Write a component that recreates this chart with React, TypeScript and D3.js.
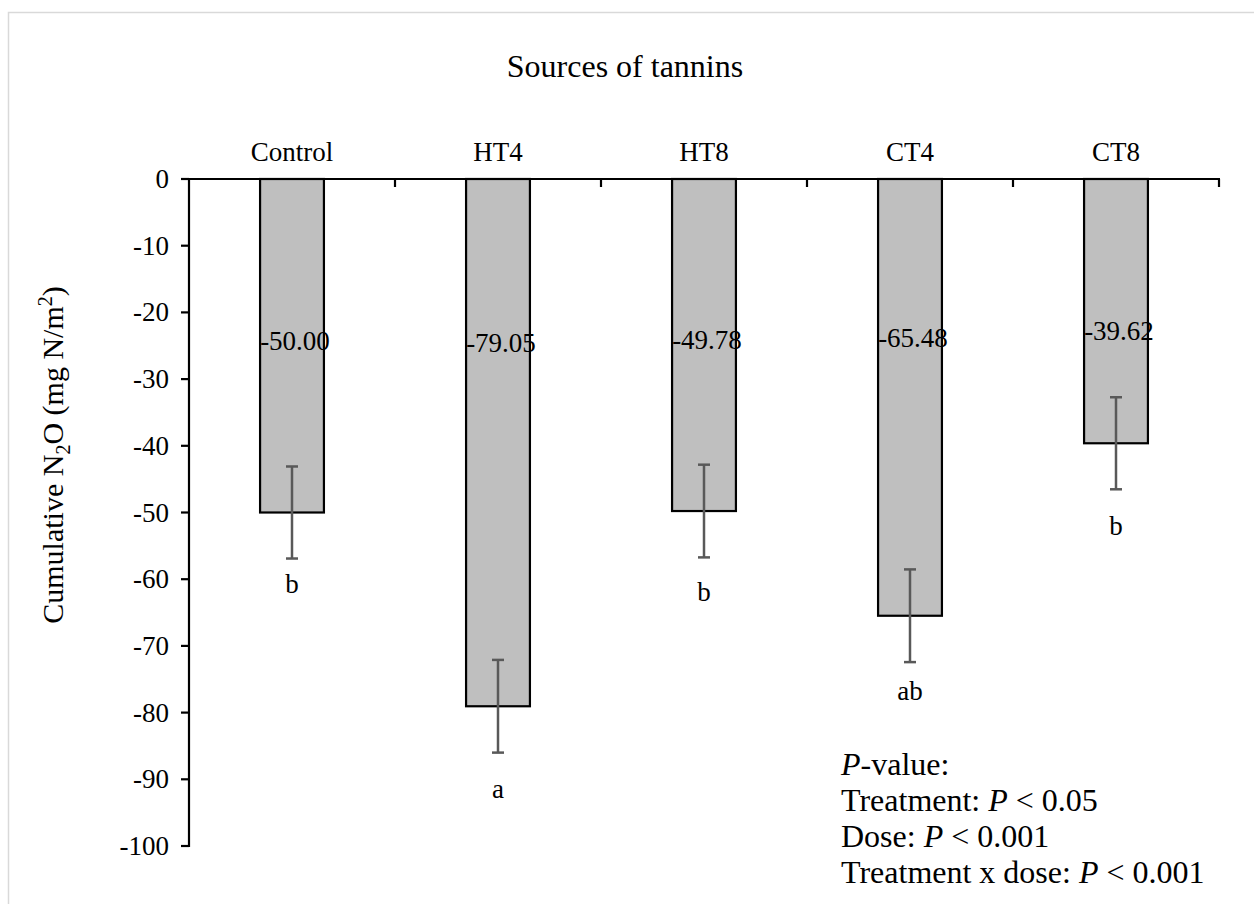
import React from 'react';
import * as d3 from 'd3';

const categories = ['Control', 'HT4', 'HT8', 'CT4', 'CT8'];
const means = [-50.0, -79.05, -49.78, -65.48, -39.62];
const errors = [6.9, 6.95, 6.95, 6.95, 6.9];
const letters = ['b', 'a', 'b', 'ab', 'b'];
// where the annotations sit, in axis units
const letterAt = [-62.1, -92.8, -63.3, -78.1, -53.4];
const labelAt = [-25.6, -25.9, -25.5, -25.2, -24.1];
const yTicks = [0, -10, -20, -30, -40, -50, -60, -70, -80, -90, -100];

const W = 1254;
const H = 904;
const left = 189;
const right = 1219;
const top = 179;
const bottom = 846;
const font = 'Liberation Serif, Times New Roman, serif';
const fs = 27;

export default function App() {
  const x = d3.scaleBand().domain(categories).range([left, right]).padding(0);
  const y = d3.scaleLinear().domain([0, -100]).range([top, bottom]);
  const bw = x.bandwidth() * 0.31;
  const cx = (c) => x(c) + x.bandwidth() / 2;
  const txt = { fontFamily: font };

  return (
    <svg width={W} height={H} style={{ position: 'absolute', left: 0, top: 0, background: '#fff', fontFamily: font }}>
      <rect x={8.5} y={12.5} width={W + 10} height={H + 10} fill="none" stroke="#d9d9d9" strokeWidth={1.5} />

      <text x={625} y={77} textAnchor="middle" fontSize={32} style={txt}>Sources of tannins</text>

      {/* bars */}
      {categories.map((c, i) => (
        <rect key={c} x={cx(c) - bw / 2} y={y(0)} width={bw} height={y(means[i]) - y(0)}
          fill="#bfbfbf" stroke="#000" strokeWidth={2.2} />
      ))}

      {/* error bars */}
      {categories.map((c, i) => {
        const y1 = y(means[i] + errors[i]);
        const y2 = y(means[i] - errors[i]);
        const xc = cx(c);
        return (
          <g key={'e' + c} stroke="#595959" strokeWidth={2.5}>
            <line x1={xc} x2={xc} y1={y1} y2={y2} />
            <line x1={xc - 6} x2={xc + 6} y1={y1} y2={y1} />
            <line x1={xc - 6} x2={xc + 6} y1={y2} y2={y2} />
          </g>
        );
      })}

      {/* value labels */}
      {categories.map((c, i) => (
        <text key={'v' + c} x={cx(c) + 3} y={y(labelAt[i])} textAnchor="middle" fontSize={fs} style={txt}>
          {means[i].toFixed(2)}
        </text>
      ))}

      {/* significance letters */}
      {categories.map((c, i) => (
        <text key={'l' + c} x={cx(c)} y={y(letterAt[i])} textAnchor="middle" fontSize={fs} style={txt}>
          {letters[i]}
        </text>
      ))}

      {/* category labels */}
      {categories.map((c) => (
        <text key={'c' + c} x={cx(c)} y={161} textAnchor="middle" fontSize={fs} style={txt}>{c}</text>
      ))}

      {/* x axis at zero */}
      <line x1={left} x2={right + 1} y1={y(0)} y2={y(0)} stroke="#000" strokeWidth={2.2} />
      {categories.slice(1).map((c) => (
        <line key={'t' + c} x1={x(c)} x2={x(c)} y1={y(0)} y2={y(0) + 8} stroke="#000" strokeWidth={2.2} />
      ))}
      <line x1={right} x2={right} y1={y(0)} y2={y(0) + 8} stroke="#000" strokeWidth={2.2} />

      {/* y axis */}
      <line x1={left} x2={left} y1={y(0) - 1} y2={y(-100) + 1} stroke="#000" strokeWidth={2.2} />
      {yTicks.map((t) => (
        <g key={'y' + t}>
          <line x1={left - 8} x2={left} y1={y(t)} y2={y(t)} stroke="#000" strokeWidth={2.2} />
          <text x={169} y={y(t) + 9} textAnchor="end" fontSize={fs} style={txt}>{t}</text>
        </g>
      ))}

      <text transform="translate(63,455) rotate(-90)" textAnchor="middle" fontSize={30} style={txt}>
        Cumulative N<tspan fontSize={20} dy={7}>2</tspan><tspan dy={-7}>O (mg N/m</tspan>
        <tspan fontSize={20} dy={-11}>2</tspan><tspan dy={11}>)</tspan>
      </text>

      <g fontSize={32} style={txt}>
        <text x={841} y={775}><tspan fontStyle="italic">P</tspan>-value:</text>
        <text x={841} y={811}>Treatment: <tspan fontStyle="italic">P</tspan> &lt; 0.05</text>
        <text x={841} y={847}>Dose: <tspan fontStyle="italic">P</tspan> &lt; 0.001</text>
        <text x={841} y={883}>Treatment x dose: <tspan fontStyle="italic">P</tspan> &lt; 0.001</text>
      </g>
    </svg>
  );
}
